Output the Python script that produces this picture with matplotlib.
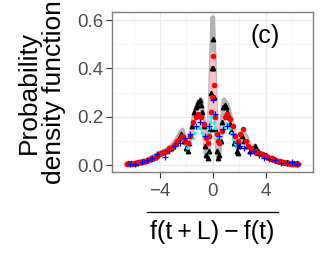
import numpy as np
import matplotlib
matplotlib.use('Agg')
import matplotlib.pyplot as plt
from matplotlib.lines import Line2D

plt.rcParams['font.family'] = ['Liberation Sans', 'DejaVu Sans']

# gray band (reference density)
gray_x = [-6.6, -6.0, -5.5, -5.0, -4.5, -4.0, -3.6, -3.2, -2.8, -2.5, -2.3, -2.1, -1.9, -1.7,
          -1.4, -1.1, -0.9, -0.7, -0.5, -0.35, -0.2, -0.1, 0.0, 0.1, 0.2, 0.35, 0.45, 0.6,
          0.85, 1.1, 1.4, 1.7, 1.9, 2.1, 2.3, 2.6, 2.9, 3.2, 3.5, 4.0, 4.5, 5.0, 5.5, 6.0, 6.6]
gray_y = [0.005, 0.008, 0.012, 0.02, 0.035, 0.05, 0.06, 0.075, 0.10, 0.13, 0.145, 0.10, 0.07, 0.12,
          0.21, 0.26, 0.27, 0.18, 0.035, 0.05, 0.25, 0.45, 0.61, 0.45, 0.25, 0.05, 0.03, 0.12,
          0.27, 0.25, 0.19, 0.10, 0.07, 0.10, 0.14, 0.11, 0.07, 0.08, 0.05, 0.04, 0.025, 0.015, 0.01, 0.008, 0.005]

# pink band
pink_x = [-6.6, -5.5, -4.5, -4.0, -3.5, -3.0, -2.6, -2.3, -2.0, -1.7, -1.4, -1.1, -0.8, -0.6,
          -0.4, -0.2, 0.0, 0.2, 0.4, 0.6, 0.9, 1.2, 1.5, 1.8, 2.0, 2.3, 2.6, 3.0, 3.5, 4.0,
          4.5, 5.0, 5.5, 6.0, 6.6]
pink_y = [0.005, 0.012, 0.03, 0.045, 0.06, 0.08, 0.10, 0.12, 0.10, 0.12, 0.19, 0.20, 0.17, 0.10,
          0.08, 0.20, 0.46, 0.20, 0.08, 0.10, 0.20, 0.20, 0.16, 0.10, 0.10, 0.12, 0.10, 0.07, 0.05, 0.04,
          0.028, 0.018, 0.012, 0.008, 0.005]

# black triangles
tri_x = [-6.4, -6.2, -6.0, -5.8, -5.6, -5.4, -5.2, -5.0, -4.8, -4.6, -4.4, -4.2, -4.0, -3.8,
         -3.6, -3.4, -3.2, -3.0, -2.8, -2.6, -2.4, -2.2, -2.0, -1.9, -1.8, -1.6, -1.4, -1.3,
         -1.2, -1.1, -1.0, -0.9, -0.8, -0.7, -0.6, -0.5, -0.4, -0.3, -0.2, -0.1, -0.05, 0.0,
         0.05, 0.1, 0.2, 0.3, 0.4, 0.5, 0.6, 0.7, 0.8, 0.9, 1.0, 1.1, 1.2, 1.3, 1.4, 1.6,
         1.8, 1.9, 2.0, 2.2, 2.4, 2.6, 2.8, 3.0, 3.2, 3.4, 3.6, 3.8, 4.0, 4.2, 4.4, 4.6,
         4.8, 5.0, 5.2, 5.4, 5.6, 5.8, 6.0, 6.2, 6.4]
tri_y = [0.01, 0.008, 0.01, 0.01, 0.012, 0.015, 0.015, 0.02, 0.025, 0.03, 0.035, 0.04, 0.05, 0.055,
         0.06, 0.065, 0.07, 0.08, 0.09, 0.11, 0.13, 0.10, 0.07, 0.06, 0.09, 0.16, 0.22, 0.24,
         0.25, 0.26, 0.27, 0.25, 0.22, 0.16, 0.08, 0.04, 0.03, 0.06, 0.15, 0.30, 0.40, 0.52,
         0.40, 0.28, 0.15, 0.06, 0.03, 0.04, 0.10, 0.18, 0.24, 0.25, 0.24, 0.22, 0.20, 0.17, 0.14, 0.09,
         0.06, 0.05, 0.08, 0.12, 0.10, 0.08, 0.06, 0.07, 0.08, 0.06, 0.05, 0.045, 0.04, 0.035, 0.03, 0.025,
         0.02, 0.018, 0.015, 0.012, 0.012, 0.01, 0.01, 0.008, 0.01]

# red dots
red_x = [-6.5, -6.3, -6.1, -5.9, -5.7, -5.5, -5.3, -5.1, -4.9, -4.7, -4.5, -4.3, -4.1, -3.9,
         -3.7, -3.5, -3.3, -3.1, -2.9, -2.7, -2.5, -2.3, -2.1, -1.9, -1.7, -1.5, -1.3, -1.1,
         -0.9, -0.7, -0.5, -0.4, -0.3, -0.15, -0.05, 0.0, 0.1, 0.2, 0.3, 0.4, 0.5, 0.7, 0.9,
         1.1, 1.3, 1.5, 1.7, 1.9, 2.1, 2.3, 2.5, 2.7, 2.9, 3.1, 3.3, 3.5, 3.7, 3.9, 4.1,
         4.3, 4.5, 4.7, 4.9, 5.1, 5.3, 5.5, 5.7, 5.9, 6.1, 6.3, 6.5]
red_y = [0.003, 0.005, 0.005, 0.008, 0.012, 0.012, 0.015, 0.018, 0.02, 0.028, 0.03, 0.035, 0.045, 0.05,
         0.055, 0.06, 0.07, 0.075, 0.085, 0.10, 0.11, 0.12, 0.10, 0.09, 0.12, 0.18, 0.20, 0.21,
         0.20, 0.17, 0.11, 0.09, 0.12, 0.22, 0.28, 0.45, 0.33, 0.20, 0.13, 0.10, 0.09, 0.14, 0.20,
         0.21, 0.19, 0.16, 0.12, 0.10, 0.13, 0.15, 0.10, 0.08, 0.07, 0.06, 0.05, 0.05, 0.045, 0.04, 0.035,
         0.03, 0.028, 0.022, 0.018, 0.015, 0.012, 0.01, 0.008, 0.006, 0.005, 0.005, 0.004]

# blue plus signs
blue_x = [-6.3, -5.9, -5.4, -5.0, -4.6, -4.2, -3.6, -3.3, -2.9, -2.5, -2.1, -1.7, -1.3, -1.0,
          -0.6, -0.3, 0.0, 0.2, 0.5, 0.8, 1.1, 1.5, 1.8, 2.1, 2.4, 2.8, 3.1, 3.5, 3.9,
          4.3, 4.7, 5.2, 5.6, 6.0, 6.4]
blue_y = [0.005, 0.004, 0.012, 0.02, 0.03, 0.045, 0.035, 0.06, 0.08, 0.09, 0.11, 0.13, 0.16, 0.18,
          0.12, 0.16, 0.27, 0.21, 0.12, 0.15, 0.16, 0.13, 0.09, 0.08, 0.07, 0.05, 0.06, 0.04, 0.03,
          0.025, 0.02, 0.01, 0.008, 0.012, 0.006]

# cyan dots (centre only)
cyan_x = [-1.9, -1.7, -1.5, -1.3, -1.1, -0.9, -0.7, -0.5, -0.3, -0.1, 0.0, 0.1, 0.3, 0.5,
          0.7, 0.9, 1.1, 1.3, 1.5, 1.7, 1.9]
cyan_y = [0.07, 0.09, 0.11, 0.14, 0.16, 0.15, 0.12, 0.10, 0.13, 0.20, 0.23, 0.19, 0.12, 0.10,
          0.13, 0.16, 0.17, 0.15, 0.12, 0.09, 0.07]

fig = plt.figure(figsize=(3.27, 2.56), dpi=100)
ax = fig.add_axes([0.3425, 0.328, 0.6145, 0.625])

ax.plot(gray_x, gray_y, color='#b3b3b3', lw=3.4, solid_capstyle='round', zorder=2)
ax.plot(pink_x, pink_y, color='#ffc0cb', lw=3.0, solid_capstyle='round', zorder=3)
ax.plot(tri_x, tri_y, ls='none', marker='^', ms=3.2, color='black', zorder=4)
ax.plot(cyan_x, cyan_y, ls=(0, (0.1, 1.4)), lw=2.6, color='cyan', dash_capstyle='round', zorder=5)
ax.plot(red_x, red_y, ls='none', marker='o', ms=3.0, color='red', zorder=6)
ax.plot(blue_x, blue_y, ls='none', marker='+', ms=5, mew=0.9, color='blue', zorder=7)

ax.set_xlim(-7.65, 7.6)
ax.set_ylim(-0.029, 0.633)
ax.set_xticks([-4, 0, 4])
ax.set_xticklabels(['\u22124', '0', '4'])
ax.set_xticks([-6, -2, 2, 6], minor=True)
ax.set_yticks([0.0, 0.2, 0.4, 0.6])
ax.set_yticklabels(['0.0', '0.2', '0.4', '0.6'])
ax.set_yticks([0.1, 0.3, 0.5], minor=True)
ax.grid(which='major', color='#ebebeb', lw=0.9, zorder=0)
ax.grid(which='minor', color='#f5f5f5', lw=0.6, zorder=0)
ax.set_axisbelow(True)
ax.tick_params(which='major', length=4, width=0.8, color='#333333', labelcolor='#4d4d4d',
               labelsize=13.5)
ax.tick_params(axis='x', pad=4)
ax.tick_params(axis='y', pad=2)
ax.tick_params(which='minor', length=0)
for sp in ax.spines.values():
    sp.set_color('#7f7f7f')
    sp.set_linewidth(1.0)

ax.set_ylabel('Probability\ndensity function', fontsize=19, linespacing=1.05, labelpad=8)
ax.text(0.76, 0.85, '(c)', transform=ax.transAxes, fontsize=18, ha='center', va='center')

fig.text(0.648, 0.093, 'f(t\u2009+\u2009L)\u2009\u2212\u2009f(t)', fontsize=18, ha='center', va='center')
fig.add_artist(Line2D([0.449, 0.850], [0.173, 0.173], color='black', lw=0.9))

fig.savefig('out.png', dpi=100)
